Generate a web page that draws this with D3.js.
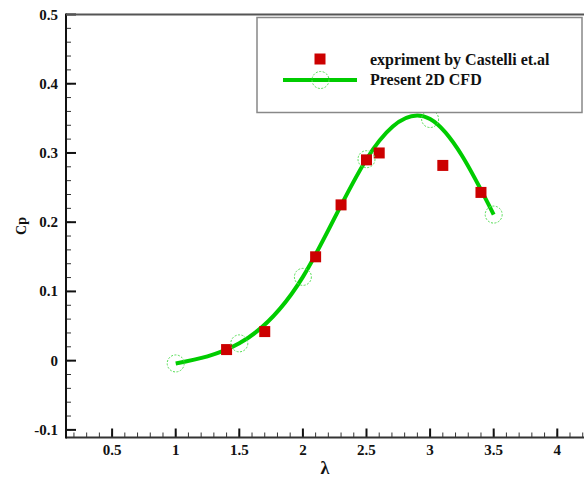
<!DOCTYPE html>
<html>
<head>
<meta charset="utf-8">
<script src="https://cdn.jsdelivr.net/npm/d3@7"></script>
<style>
html,body{margin:0;padding:0;background:#fff;}
svg{display:block;}
text{font-family:"Liberation Serif","Times New Roman",serif;font-weight:bold;fill:#111;}
</style>
</head>
<body>
<svg id="chart" width="584" height="477"></svg>
<script>
// Data
const expLambda = [1.4, 1.7, 2.1, 2.3, 2.5, 2.6, 3.1, 3.4];
const expCp     = [0.016, 0.042, 0.150, 0.225, 0.290, 0.300, 0.282, 0.243];
const cfdLambda = [1.0, 1.5, 2.0, 2.5, 3.0, 3.5];
const cfdCp     = [-0.004, 0.025, 0.121, 0.291, 0.349, 0.211];
const xTicks = [0.5, 1, 1.5, 2, 2.5, 3, 3.5, 4];
const yTicks = [-0.1, 0, 0.1, 0.2, 0.3, 0.4, 0.5];
const legendLabels = ["expriment by Castelli et.al", "Present 2D CFD"];

const svg = d3.select("#chart");
const L = 66, R = 584, T = 14.5, B = 437.5;
const x = d3.scaleLinear().domain([0.1375, 4.21]).range([L, R]);
const y = d3.scaleLinear().domain([-0.111, 0.5]).range([B, T]);

// minor ticks
const xMinor = d3.range(2, 43).map(d => d / 10).filter(v => x(v) > L + 1 && x(v) < R);
const yMinor = d3.range(-5, 26).map(d => d / 50).filter(v => y(v) < B - 1 && y(v) > T + 1);

const g = svg.append("g");
// X axis
g.selectAll(".xminor").data(xMinor).enter().append("line")
  .attr("x1", d => x(d)).attr("x2", d => x(d)).attr("y1", B).attr("y2", B - 5)
  .attr("stroke", "#333").attr("stroke-width", 1);
g.selectAll(".xmajor").data(xTicks).enter().append("line")
  .attr("x1", d => x(d)).attr("x2", d => x(d)).attr("y1", B).attr("y2", B - 9)
  .attr("stroke", "#111").attr("stroke-width", 2);
g.selectAll(".xlab").data(xTicks).enter().append("text")
  .attr("x", d => x(d)).attr("y", 455).attr("text-anchor", "middle")
  .attr("font-size", 15).text(d => d);
// Y axis
g.selectAll(".yminor").data(yMinor).enter().append("line")
  .attr("x1", L).attr("x2", L + 5).attr("y1", d => y(d)).attr("y2", d => y(d))
  .attr("stroke", "#333").attr("stroke-width", 1);
g.selectAll(".ymajor").data(yTicks).enter().append("line")
  .attr("x1", L).attr("x2", L + 10).attr("y1", d => y(d)).attr("y2", d => y(d))
  .attr("stroke", "#111").attr("stroke-width", 2);
g.selectAll(".ylab").data(yTicks).enter().append("text")
  .attr("x", 58).attr("y", d => y(d) + 5).attr("text-anchor", "end")
  .attr("font-size", 15).text(d => d);

// frame lines
g.append("line").attr("x1", L).attr("x2", R).attr("y1", B).attr("y2", B).attr("stroke", "#333").attr("stroke-width", 2);
g.append("line").attr("x1", L).attr("x2", L).attr("y1", T - 1).attr("y2", B + 1).attr("stroke", "#111").attr("stroke-width", 2);
g.append("line").attr("x1", L).attr("x2", R).attr("y1", T).attr("y2", T).attr("stroke", "#555").attr("stroke-width", 2);

// axis titles
svg.append("text").attr("x", 325).attr("y", 474).attr("text-anchor", "middle")
  .attr("font-size", 18).text("λ");
svg.append("text").attr("transform", "translate(26,226) rotate(-90)")
  .attr("text-anchor", "middle").attr("font-size", 14).attr("font-weight", "normal")
  .text("Cp");

// CFD curve
const cfd = cfdLambda.map((l, i) => [l, cfdCp[i]]);
const line = d3.line().x(d => x(d[0])).y(d => y(d[1])).curve(d3.curveNatural);
svg.append("path").datum(cfd).attr("d", line).attr("fill", "none")
  .attr("stroke", "#00cc00").attr("stroke-width", 4);

// experiment squares
const exp = expLambda.map((l, i) => [l, expCp[i]]);
const sq = 11;
svg.selectAll(".exp").data(exp).enter().append("rect")
  .attr("x", d => x(d[0]) - sq / 2).attr("y", d => y(d[1]) - sq / 2)
  .attr("width", sq).attr("height", sq).attr("fill", "#cc0000");

// CFD circles
svg.selectAll(".cfd").data(cfd).enter().append("circle")
  .attr("cx", d => x(d[0])).attr("cy", d => y(d[1])).attr("r", 8.5)
  .attr("fill", "none").attr("stroke", "#55dd55").attr("stroke-width", 1)
  .attr("stroke-dasharray", "2,1.5");

// Legend
const lg = svg.append("g");
lg.append("rect").attr("x", 257).attr("y", 17.5).attr("width", 325).attr("height", 95)
  .attr("fill", "#fff").attr("stroke", "#888").attr("stroke-width", 1.5);
lg.append("rect").attr("x", 320 - sq / 2).attr("y", 59 - sq / 2).attr("width", sq).attr("height", sq).attr("fill", "#cc0000");
lg.append("line").attr("x1", 283).attr("x2", 357).attr("y1", 80).attr("y2", 80)
  .attr("stroke", "#00cc00").attr("stroke-width", 4);
lg.append("circle").attr("cx", 320.5).attr("cy", 80).attr("r", 8.5)
  .attr("fill", "none").attr("stroke", "#55dd55").attr("stroke-width", 1).attr("stroke-dasharray", "2,1.5");
lg.selectAll(".lt").data(legendLabels).enter().append("text")
  .attr("x", 370).attr("y", (d, i) => 65 + i * 20).attr("font-size", 16).text(d => d);
</script>
</body>
</html>
